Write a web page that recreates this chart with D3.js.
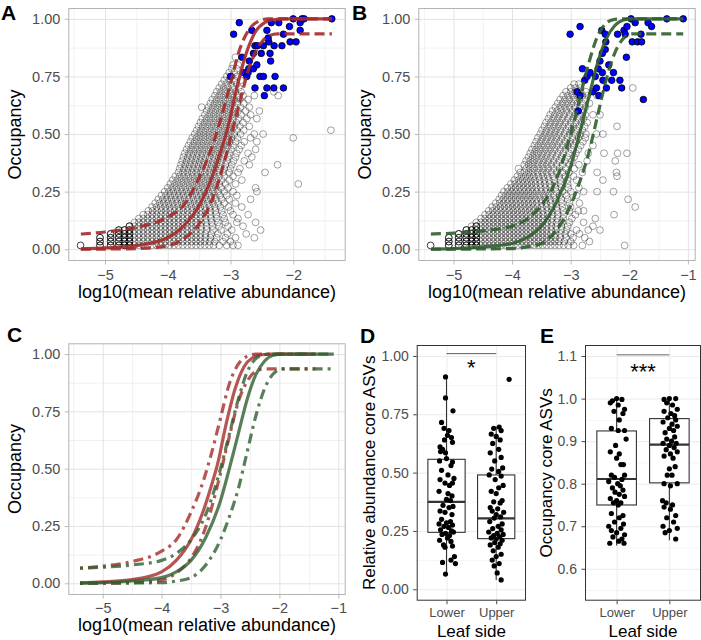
<!DOCTYPE html>
<html>
<head>
<meta charset="utf-8">
<script src="https://cdn.jsdelivr.net/npm/d3@7"></script>
<style>
  body { margin: 0; background: #fff; }
</style>
</head>
<body>
<svg id="fig" width="701" height="640"></svg>
<script>
// ---- data ----
// occupancy is k/60 (60 leaf samples); x is log10(mean relative abundance), written as hundredths (positive = minus)
const nSamples = 60;

// panel A (lower leaf side): non-core ASVs, one row per occupancy level "k: x x x ..."
const grayA = [
  "1: 508 491 478 469 461 453 446 439 432 425 418 411 404 397 390 383 376 369 362 355 348 341 334 327 318 306 296 288",
  "2: 508 491 478 469 461 453 446 439 432 425 418 411 404 397 390 383 376 369 362 355 348 341 333 325 312 300",
  "3: 508 491 478 469 461 453 446 439 432 425 418 411 404 397 390 383 376 369 362 355 348 340 332 322 308 292 262",
  "4: 491 478 469 461 453 446 439 432 425 418 411 404 397 390 383 376 369 362 355 348 340 331 320 305 275",
  "5: 478 469 461 453 446 439 432 425 418 411 404 397 390 383 376 369 362 355 347 338 328 315 298 252",
  "6: 461 453 446 439 432 425 418 411 404 397 390 383 376 369 362 355 347 338 329 318 304 280",
  "7: 453 446 439 432 425 418 411 404 397 390 383 376 369 362 355 347 339 330 320 308 290 260",
  "8: 446 439 432 425 418 411 404 397 390 383 376 369 362 355 348 340 331 322 310 288",
  "9: 439 432 425 418 411 404 397 390 383 376 369 362 355 348 340 332 323 312 296 272",
  "10: 431 424 417 410 403 396 389 382 375 368 361 354 347 340 332 324 314 300",
  "11: 425 418 411 404 397 390 383 376 369 362 355 348 341 333 325 316 303 282",
  "12: 420 413 406 399 392 385 378 371 364 357 350 343 336 328 320 310 292",
  "13: 415 408 401 394 387 380 373 366 359 352 345 338 331 323 314 302 268",
  "14: 410 403 396 389 382 375 368 361 354 347 340 333 325 317 306 290",
  "15: 405 398 391 384 377 370 363 356 349 342 335 328 320 310 296 258",
  "16: 400 393 386 379 372 365 358 351 344 337 330 323 315 304 260",
  "17: 396 389 382 375 368 361 354 347 340 333 326 318 308 292 192",
  "18: 392 385 378 371 364 357 350 343 336 329 322 314 302 282",
  "19: 388 381 374 367 360 353 346 339 332 325 318 310 296",
  "20: 383 376 369 362 355 348 341 334 327 320 312 302 288 245",
  "21: 381 374 367 360 353 346 339 332 325 318 310 300 285",
  "22: 379 372 365 358 351 344 337 330 323 316 308 298 270 225",
  "23: 377 370 363 356 349 342 335 328 321 314 306 295 278",
  "24: 375 368 361 354 347 340 333 326 319 312 304 292 266",
  "25: 373 366 359 352 345 338 331 324 317 310 302 290 272",
  "26: 370 363 356 349 342 335 328 321 314 307 299 286 260",
  "27: 367 360 353 346 339 332 325 318 311 304 296 283",
  "28: 364 357 350 343 336 329 322 315 308 301 292 278 258",
  "29: 361 354 347 340 333 326 319 312 305 298 289 268 200",
  "30: 357 350 343 336 329 322 315 308 301 294 284 262 248",
  "31: 354 347 340 333 326 319 312 305 298 290 279 140",
  "32: 351 344 337 330 323 316 309 302 294 285 270",
  "33: 348 341 334 327 320 313 306 299 291 280",
  "34: 345 338 331 324 317 310 303 296 287 274 258",
  "35: 341 334 327 320 313 306 299 292 283 268",
  "36: 338 331 324 317 310 303 296 288 276 254",
  "37: 346 335 328 321 314 307 300 293 284 270",
  "38: 332 325 318 311 304 297 289 279",
  "39: 329 322 315 308 301 294 285 272",
  "40: 325 318 311 304 297 289 280 262 224",
  "41: 322 315 308 300 292 283 231",
  "42: 318 311 304 296 287",
  "43: 314 307 299 290",
  "44: 310 302 294 284",
  "45: 306 298 289",
  "46: 302 294",
  "47: 298 290",
  "48: 296 288",
  "50: 292"
];
// stacked (many identical) low-abundance ASVs, "x: k k k"
const stackA = ["539: 1", "508: 1 2 3", "491: 1 2 3 4", "478: 1 2 3 4 5", "469: 1 2 3 4 5", "461: 1 2 3 4 5 6"];
// core ASVs of panel A, [x, k]
const coreA = [
  [-2.86,59],[-2.95,56],[-3.0,45],[-2.82,50],[-2.79,46],[-2.74,45],[-2.71,47],[-2.70,49],[-2.66,57],
  [-2.635,47],[-2.61,53],[-2.58,48],[-2.57,53],[-2.61,42],[-2.53,45],[-2.475,45],[-2.46,40],[-2.42,57],
  [-2.42,42],[-2.39,54],[-2.37,51],[-2.36,49],[-2.35,59],[-2.31,42],[-2.305,53],[-2.29,45],[-2.23,59],
  [-2.18,53],[-2.156,56],[-2.156,42],[-2.06,58],[-2.05,54],[-2.0,60],[-1.955,54],[-1.89,59],[-1.89,57],
  [-1.86,60],[-1.826,60],[-1.385,60],[-2.51,51],[-2.475,53],[-2.40,55],[-2.635,51],[-2.72,46]
];

// panel B (upper leaf side)
const grayB = [
  "1: 508 491 478 469 461 453 446 439 432 425 418 411 404 397 390 383 376 369 362 355 348 341 334 327 320 312 304 295 280 208",
  "2: 508 491 478 469 461 453 446 439 432 425 418 411 404 397 390 383 376 369 362 355 348 341 334 327 320 311 300 268",
  "3: 508 491 478 469 461 453 446 439 432 425 418 411 404 397 390 383 376 369 362 355 348 341 334 326 318 308 296 276",
  "4: 491 478 469 461 453 446 439 432 425 418 411 404 397 390 383 376 369 362 355 348 341 334 326 318 309 300 285",
  "5: 478 469 461 453 446 439 432 425 418 411 404 397 390 383 376 369 362 355 348 341 333 325 316 307 290 270 250",
  "6: 469 461 453 446 439 432 425 418 411 404 397 390 383 376 369 362 355 348 341 333 325 316 305 262",
  "7: 461 453 446 439 432 425 418 411 404 397 390 383 376 369 362 355 348 340 332 324 315 302 278",
  "8: 453 446 439 432 425 418 411 404 397 390 383 376 369 362 355 348 340 332 323 313 298 258",
  "9: 446 439 432 425 418 411 404 397 390 383 376 369 362 355 347 339 331 322 312 292 226",
  "10: 440 433 426 419 412 405 398 391 384 377 370 363 356 348 340 332 323 313 302 287 278",
  "11: 434 427 420 413 406 399 392 385 378 371 364 357 349 341 333 324 314 300 190",
  "12: 428 421 414 407 400 393 386 379 372 365 358 350 342 334 325 315 302 285",
  "13: 422 415 408 401 394 387 380 373 366 359 351 343 335 326 316 305 202",
  "14: 418 411 404 397 390 383 376 369 362 354 346 338 329 319 307 290",
  "15: 414 407 400 393 386 379 372 365 358 350 342 334 325 314 300 278 255 227",
  "16: 408 401 394 387 380 373 366 359 351 343 335 326 316 304 286",
  "17: 402 395 388 381 374 367 360 352 344 336 327 317 305",
  "18: 396 389 382 375 368 361 353 345 337 328 318 306 290 245",
  "19: 391 384 377 370 363 355 347 339 330 320 309 295 221",
  "20: 386 379 372 365 357 349 341 333 324 314 303 280 255 222",
  "21: 389 376 369 362 354 346 338 329 319 308 294",
  "22: 379 372 365 357 349 341 333 324 314 302 286",
  "23: 376 369 362 354 346 338 329 320 310 298 272 224",
  "24: 372 365 358 350 342 334 325 316 306 294",
  "25: 369 362 355 347 339 331 322 313 303 291 270 243 220 204",
  "26: 366 359 351 343 335 327 318 309 299 287",
  "27: 362 355 347 339 331 323 314 305 295 283 262",
  "28: 359 351 343 335 327 319 310 301 291 279",
  "29: 356 348 340 332 324 315 306 297 287 275",
  "30: 352 344 336 328 320 311 302 293 284 274 256 245",
  "31: 349 341 333 325 317 308 299 290 280",
  "32: 345 337 329 321 313 304 295 286 276 221",
  "33: 342 334 326 318 309 300 291 282 272",
  "34: 338 330 322 314 305 296 287 278",
  "35: 335 327 319 311 302 293 284 275 262 250",
  "36: 331 323 315 307 298 289 280",
  "37: 326 318 310 302 293 284 275",
  "38: 322 314 306 298 289 280 268",
  "39: 318 310 302 294 285 276",
  "40: 313 305 297 289 280 271 255",
  "41: 308 300 292 283 274",
  "42: 300 292 283 194",
  "43: 294 286"
];
const stackB = ["539: 1", "508: 1 2 3", "491: 1 2 3 4", "478: 1 2 3 4 5", "469: 1 2 3 4 5", "461: 1 2 3 4 5 6"];
const coreB = [
  [-3.01,56],[-2.84,58],[-2.89,41],[-2.84,40],[-2.87,36],[-2.80,47],[-2.76,44],[-2.72,45],[-2.67,46],
  [-2.62,41],[-2.56,42],[-2.52,40],[-2.47,57],[-2.41,56],[-2.40,54],[-2.41,52],[-2.46,51],[-2.50,49],
  [-2.53,47],[-2.46,46],[-2.45,44],[-2.39,42],[-2.35,48],[-2.30,44],[-2.27,46],[-2.16,44],[-2.13,42],
  [-2.09,57],[-2.07,56],[-2.04,58],[-1.97,60],[-1.90,59],[-2.05,50],[-1.95,54],[-1.86,54],[-1.80,56],
  [-1.79,54],[-1.68,59],[-1.62,58],[-1.36,60],[-1.08,60],[-1.76,39],[-2.20,56],[-2.58,45]
];

// fitted neutral model curves [x, occupancy]: fit, upper and lower bound
const fitA = [[-5.385,0.002],[-5,0.006],[-4.5,0.016],[-4,0.05],[-3.75,0.10],[-3.5,0.19],[-3.3,0.31],[-3.15,0.43],
  [-3.05,0.52],[-2.9,0.70],[-2.75,0.85],[-2.6,0.945],[-2.45,0.985],[-2.3,0.997],[-2.15,1],[-1.385,1]];
const upperA = [[-5.385,0.066],[-5,0.075],[-4.5,0.095],[-4,0.14],[-3.75,0.19],[-3.5,0.31],[-3.3,0.44],[-3.15,0.57],
  [-3.0,0.72],[-2.85,0.87],[-2.7,0.955],[-2.55,0.99],[-2.4,1],[-1.385,1]];
const lowerA = [[-5.385,0],[-4.5,0.003],[-4,0.015],[-3.75,0.045],[-3.5,0.11],[-3.3,0.21],[-3.15,0.33],[-3.0,0.48],
  [-2.85,0.64],[-2.7,0.79],[-2.55,0.88],[-2.4,0.925],[-2.25,0.935],[-1.385,0.935]];
const fitB = [[-5.385,0.001],[-5,0.003],[-4.5,0.01],[-4,0.025],[-3.75,0.05],[-3.5,0.10],[-3.25,0.20],[-3.0,0.36],
  [-2.85,0.50],[-2.7,0.65],[-2.55,0.80],[-2.4,0.91],[-2.25,0.97],[-2.1,0.995],[-1.95,1],[-1.08,1]];
const upperB = [[-5.385,0.066],[-5,0.07],[-4.5,0.08],[-4,0.10],[-3.75,0.13],[-3.5,0.19],[-3.25,0.30],[-3.0,0.50],
  [-2.85,0.65],[-2.7,0.80],[-2.55,0.92],[-2.4,0.98],[-2.25,0.998],[-2.1,1],[-1.08,1]];
const lowerB = [[-5.385,0],[-4,0.003],[-3.75,0.01],[-3.5,0.025],[-3.25,0.08],[-3.0,0.19],[-2.85,0.29],[-2.7,0.41],
  [-2.55,0.57],[-2.4,0.73],[-2.25,0.85],[-2.1,0.915],[-1.95,0.935],[-1.08,0.935]];

// panels D and E: per leaf side, [jitter offset, value]
const sides = ["Lower", "Upper"];
const relAbundance = [
  [[-0.02,0.91],[-0.02,0.82],[0.13,0.765],[-0.1,0.715],[-0.05,0.69],[0.05,0.68],[0.02,0.66],[0.1,0.65],[-0.04,0.64],
   [0.12,0.63],[-0.13,0.61],[-0.08,0.6],[-0.12,0.59],[-0.02,0.585],[0.0,0.56],[-0.14,0.55],[0.12,0.545],[0.09,0.53],
   [-0.1,0.51],[0.03,0.49],[0.15,0.475],[-0.13,0.47],[-0.03,0.455],[0.12,0.455],[0.06,0.445],[-0.15,0.42],[0.03,0.41],
   [0.11,0.4],[0.0,0.385],[0.08,0.38],[-0.07,0.36],[0.13,0.355],[0.05,0.35],[-0.13,0.335],[-0.03,0.33],[0.11,0.32],
   [-0.1,0.3],[0.08,0.29],[0.0,0.285],[-0.15,0.28],[0.12,0.275],[-0.05,0.27],[0.04,0.265],[-0.12,0.255],[0.1,0.25],
   [0.14,0.245],[-0.02,0.24],[-0.09,0.235],[0.06,0.23],[0.02,0.22],[-0.14,0.21],[0.09,0.205],[-0.06,0.19],[0.12,0.185],
   [-0.03,0.18],[0.16,0.14],[0.09,0.125],[-0.08,0.115],[0.18,0.11],[-0.02,0.065]],
  [[0.26,0.90],[0.06,0.695],[-0.05,0.69],[0.1,0.68],[-0.1,0.665],[0.0,0.655],[0.08,0.64],[-0.07,0.625],[0.05,0.6],
   [-0.12,0.585],[0.1,0.565],[-0.03,0.55],[0.13,0.52],[-0.09,0.515],[0.05,0.505],[-0.14,0.49],[0.1,0.485],[-0.02,0.47],
   [0.14,0.445],[0.05,0.435],[-0.1,0.42],[0.0,0.41],[0.12,0.38],[-0.05,0.375],[0.08,0.37],[-0.12,0.35],[0.03,0.345],
   [-0.08,0.335],[0.15,0.33],[0.0,0.32],[0.09,0.31],[-0.04,0.305],[-0.13,0.29],[0.12,0.28],[0.04,0.27],[-0.07,0.26],
   [0.1,0.255],[-0.15,0.245],[0.02,0.24],[0.14,0.235],[-0.05,0.23],[0.07,0.225],[-0.1,0.22],[0.0,0.215],[0.12,0.21],
   [-0.03,0.2],[0.08,0.195],[-0.12,0.19],[0.04,0.18],[-0.06,0.165],[0.1,0.15],[0.0,0.14],[-0.08,0.125],[0.06,0.11],
   [-0.04,0.1],[0.02,0.07],[0.1,0.04]]
];
const occCore = [
  [[0.0,1.0],[-0.08,0.995],[0.1,0.998],[-0.12,0.99],[0.03,0.985],[0.15,0.975],[-0.05,0.97],[0.12,0.965],[0.05,0.95],
   [-0.1,0.93],[0.15,0.925],[0.03,0.925],[0.18,0.905],[-0.02,0.89],[-0.12,0.875],[0.05,0.87],[0.0,0.86],[0.13,0.845],
   [0.08,0.845],[-0.1,0.82],[0.15,0.82],[-0.04,0.815],[0.1,0.81],[-0.15,0.805],[0.02,0.8],[0.07,0.795],[-0.08,0.79],
   [0.12,0.785],[-0.03,0.78],[0.05,0.775],[0.15,0.77],[-0.12,0.765],[0.0,0.76],[0.08,0.755],[-0.06,0.755],[0.03,0.75],
   [-0.1,0.73],[0.12,0.725],[0.05,0.72],[-0.04,0.71],[0.13,0.705],[-0.15,0.7],[0.08,0.695],[-0.1,0.69],[0.0,0.685],
   [0.15,0.68],[-0.07,0.675],[0.1,0.67],[0.04,0.665],[-0.13,0.66],[0.14,0.66]],
  [[0.0,1.0],[-0.1,0.998],[0.12,1.0],[-0.05,0.99],[0.06,0.985],[0.15,0.975],[-0.1,0.97],[0.03,0.965],[0.1,0.96],
   [-0.03,0.955],[0.12,0.95],[-0.12,0.945],[0.05,0.94],[0.15,0.935],[0.0,0.93],[0.08,0.925],[-0.08,0.92],[0.1,0.91],
   [-0.05,0.905],[0.04,0.9],[0.13,0.895],[-0.12,0.895],[0.0,0.89],[0.09,0.885],[-0.06,0.88],[0.15,0.875],[0.02,0.87],
   [-0.1,0.865],[0.07,0.86],[0.11,0.84],[0.0,0.835],[-0.04,0.82],[0.05,0.82],[0.15,0.8],[-0.1,0.8],[0.02,0.795],
   [-0.13,0.76],[-0.06,0.755],[0.06,0.75],[-0.1,0.745],[0.02,0.74],[0.12,0.725],[-0.05,0.72],[0.08,0.71],[-0.12,0.7],
   [0.15,0.695],[0.0,0.69],[-0.08,0.685],[0.12,0.67]]
];
// box statistics per side: [lower whisker, q1, median, q3, upper whisker]
const relStats = [[0.065, 0.244, 0.375, 0.557, 0.91], [0.04, 0.217, 0.304, 0.49, 0.697]];
const occStats = [[0.655, 0.75, 0.811, 0.924, 1.0], [0.667, 0.802, 0.892, 0.953, 1.0]];

// ---- drawing ----
const svg = d3.select('#fig');
const font = '"Liberation Sans", Arial, Helvetica, sans-serif';
const red = '#a52a2a', green = '#2f5f2f';

function parseRows(rows) {
  const pts = [];
  rows.forEach(r => {
    const [k, xs] = r.split(':');
    xs.trim().split(/\s+/).forEach(v => pts.push([-v / 100, +k / nSamples]));
  });
  return pts;
}
function parseStacks(rows) {
  const pts = [];
  rows.forEach(r => {
    const [x, ks] = r.split(':');
    ks.trim().split(/\s+/).forEach(k => pts.push([-x / 100, +k / nSamples]));
  });
  return pts;
}

function styleAxis(g, c) {
  g.attr('font-family', font);
  g.select('.domain').remove();
  g.selectAll('.tick line').attr('stroke', c.tick).attr('stroke-width', 0.9);
  g.selectAll('.tick text').attr('fill', '#4d4d4d').attr('font-size', c.fs);
}

function drawBack(c) {
  const [x0, x1] = c.sx.range(), [y1, y0] = c.sy.range();
  const g = svg.append('g');
  g.append('rect').attr('x', x0).attr('y', y0).attr('width', x1 - x0).attr('height', y1 - y0).attr('fill', '#fff');
  const grid = (vals, vert, w) => {
    if (!vals.length) return;
    const ax = vert ? d3.axisBottom(c.sx) : d3.axisLeft(c.sy);
    const gg = g.append('g')
      .attr('transform', vert ? `translate(0,${y1})` : `translate(${x0},0)`)
      .call(ax.tickValues(vals).tickSize(vert ? -(y1 - y0) : -(x1 - x0)).tickFormat(''));
    gg.select('.domain').remove();
    gg.selectAll('line').attr('stroke', c.grid).attr('stroke-width', w);
  };
  grid(c.xMinor, true, 0.5);
  grid(c.yMinor, false, 0.5);
  grid(c.xTicks, true, 1);
  grid(c.yTicks, false, 1);
}

function drawFront(c) {
  const [x0, x1] = c.sx.range(), [y1, y0] = c.sy.range();
  svg.append('rect').attr('x', x0 + 0.5).attr('y', y0 + 0.5).attr('width', x1 - x0 - 1).attr('height', y1 - y0 - 1)
    .attr('fill', 'none').attr('stroke', c.border).attr('stroke-width', 1);
  svg.append('g').attr('transform', `translate(0,${y1})`)
    .call(d3.axisBottom(c.sx).tickValues(c.xTicks).tickSize(3.5).tickPadding(c.xPad).tickFormat(c.xFmt))
    .call(g => styleAxis(g, c));
  svg.append('g').attr('transform', `translate(${x0},0)`)
    .call(d3.axisLeft(c.sy).tickValues(c.yTicks).tickSize(3.5).tickPadding(4.5).tickFormat(c.yFmt))
    .call(g => styleAxis(g, { ...c, fs: c.yfs || c.fs }));
}

function label(txt, x, y, size, opt = {}) {
  const t = svg.append('text').attr('x', x).attr('y', y).attr('font-family', font)
    .attr('font-size', size).attr('fill', '#000').text(txt);
  if (opt.anchor) t.attr('text-anchor', opt.anchor);
  if (opt.bold) t.attr('font-weight', 'bold');
  if (opt.rotate) t.attr('transform', `rotate(-90,${x},${y})`);
  return t;
}

const fmtInt = d3.format('d'), fmt2 = d3.format('.2f'), fmt1 = d3.format('.1f');
const lineGen = (sx, sy) => d3.line().x(d => sx(d[0])).y(d => sy(d[1])).curve(d3.curveMonotoneX);

function curvePanel(c) {
  drawBack(c);
  const g = svg.append('g');
  if (c.gray) {
    g.selectAll('circle.nc').data(parseRows(c.gray)).join('circle')
      .attr('cx', d => c.sx(d[0])).attr('cy', d => c.sy(d[1])).attr('r', 3.4)
      .attr('fill', 'none').attr('stroke', '#000').attr('stroke-opacity', 0.46).attr('stroke-width', 0.8);
    g.selectAll('circle.st').data(parseStacks(c.stack)).join('circle')
      .attr('cx', d => c.sx(d[0])).attr('cy', d => c.sy(d[1])).attr('r', 3.4)
      .attr('fill', 'none').attr('stroke', '#000').attr('stroke-opacity', 0.85).attr('stroke-width', 0.9);
    g.selectAll('circle.core').data(c.core).join('circle')
      .attr('cx', d => c.sx(d[0])).attr('cy', d => c.sy(d[1] / nSamples)).attr('r', 3.3)
      .attr('fill', '#0000ff').attr('stroke', '#000').attr('stroke-width', 0.8);
  }
  c.curves.forEach(cv => {
    g.append('path').attr('d', lineGen(c.sx, c.sy)(cv.data))
      .attr('fill', 'none').attr('stroke', cv.color).attr('stroke-opacity', cv.alpha)
      .attr('stroke-width', 3.2).attr('stroke-dasharray', cv.dash || null);
  });
  drawFront(c);
}

const occTicks = [0, 0.25, 0.5, 0.75, 1], occMinor = [0.125, 0.375, 0.625, 0.875];
const lightTheme = { grid: '#e3e3e3', border: '#b3b3b3', tick: '#b3b3b3', fs: 14.5, xPad: 5.5, xFmt: fmtInt, yFmt: fmt2 };
const yOcc = (top, bottom) => d3.scaleLinear().domain([-0.051, 1.047]).range([bottom, top]);

// A
curvePanel({ ...lightTheme,
  sx: d3.scaleLinear().domain([-5.585, -1.164]).range([68.3, 345.7]), sy: yOcc(8, 261),
  xTicks: [-5, -4, -3, -2], xMinor: [-5.5, -4.5, -3.5, -2.5, -1.5], yTicks: occTicks, yMinor: occMinor,
  gray: grayA, stack: stackA, core: coreA,
  curves: [{ data: fitA, color: red, alpha: 0.9 }, { data: upperA, color: red, alpha: 0.9, dash: '10,5' },
           { data: lowerA, color: red, alpha: 0.9, dash: '10,5' }] });
// B
curvePanel({ ...lightTheme,
  sx: d3.scaleLinear().domain([-5.6, -0.867]).range([418.3, 695.7]), sy: yOcc(8, 261),
  xTicks: [-5, -4, -3, -2, -1], xMinor: [-5.5, -4.5, -3.5, -2.5, -1.5], yTicks: occTicks, yMinor: occMinor,
  gray: grayB, stack: stackB, core: coreB,
  curves: [{ data: fitB, color: green, alpha: 0.9 }, { data: upperB, color: green, alpha: 0.9, dash: '10,5' },
           { data: lowerB, color: green, alpha: 0.9, dash: '10,5' }] });
// C
curvePanel({ ...lightTheme, xPad: 4.5,
  sx: d3.scaleLinear().domain([-5.584, -0.874]).range([68.3, 345.7]), sy: yOcc(343.3, 595),
  xTicks: [-5, -4, -3, -2, -1], xMinor: [-5.5, -4.5, -3.5, -2.5, -1.5], yTicks: occTicks, yMinor: occMinor,
  curves: [{ data: fitA, color: red, alpha: 0.8 }, { data: upperA, color: red, alpha: 0.8, dash: '3,5,10,5' },
           { data: lowerA, color: red, alpha: 0.8, dash: '3,5,10,5' },
           { data: fitB, color: green, alpha: 0.8 }, { data: upperB, color: green, alpha: 0.8, dash: '3,5,10,5' },
           { data: lowerB, color: green, alpha: 0.8, dash: '3,5,10,5' }] });

// D and E boxplots
function boxPanel(c) {
  drawBack(c);
  const step = c.sx.step();
  const g = svg.append('g');
  const bw = 0.75 * step;
  c.stats.forEach((s, i) => {
    const cx = c.sx(sides[i]);
    g.append('line').attr('x1', cx).attr('x2', cx).attr('y1', c.sy(s[0])).attr('y2', c.sy(s[1]))
      .attr('stroke', '#333').attr('stroke-width', 1.1);
    g.append('line').attr('x1', cx).attr('x2', cx).attr('y1', c.sy(s[3])).attr('y2', c.sy(s[4]))
      .attr('stroke', '#333').attr('stroke-width', 1.1);
    g.append('rect').attr('x', cx - bw / 2).attr('width', bw).attr('y', c.sy(s[3])).attr('height', c.sy(s[1]) - c.sy(s[3]))
      .attr('fill', '#fff').attr('stroke', '#333').attr('stroke-width', 1.1);
    g.append('line').attr('x1', cx - bw / 2).attr('x2', cx + bw / 2).attr('y1', c.sy(s[2])).attr('y2', c.sy(s[2]))
      .attr('stroke', '#333').attr('stroke-width', 2.2);
  });
  c.points.forEach((pts, i) => {
    g.selectAll(null).data(pts).join('circle')
      .attr('cx', d => c.sx(sides[i]) + d[0] * step).attr('cy', d => c.sy(d[1])).attr('r', 2.6).attr('fill', '#000');
  });
  const [xa, xb] = [c.sx(sides[0]), c.sx(sides[1])];
  g.append('line').attr('x1', xa).attr('x2', xb).attr('y1', c.sy(c.barY)).attr('y2', c.sy(c.barY))
    .attr('stroke', c.barColor).attr('stroke-width', c.barW);
  g.append('text').attr('x', (xa + xb) / 2).attr('y', c.starY).attr('text-anchor', 'middle')
    .attr('font-family', font).attr('font-size', 22).attr('fill', '#000').text(c.stars);
  drawFront(c);
}
const bwTheme = { grid: '#ebebeb', border: '#333333', tick: '#333333', fs: 13, yfs: 14, xPad: 3.5, xFmt: d => d };

boxPanel({ ...bwTheme,
  sx: d3.scalePoint().domain(sides).range([416.7, 526]).padding(0.6),
  sy: d3.scaleLinear().domain([-0.049, 1.047]).range([600.7, 345]),
  xTicks: sides, xMinor: [], yTicks: occTicks, yMinor: occMinor, yFmt: fmt2,
  stats: relStats, points: relAbundance, barY: 1.01, barColor: '#333', barW: 0.8, stars: '*', starY: 375 });
boxPanel({ ...bwTheme,
  sx: d3.scalePoint().domain(sides).range([585, 701]).padding(0.6),
  sy: d3.scaleLinear().domain([0.525, 1.126]).range([600.7, 345]),
  xTicks: sides, xMinor: [], yTicks: [0.6, 0.7, 0.8, 0.9, 1.0, 1.1], yMinor: [0.55, 0.65, 0.75, 0.85, 0.95, 1.05],
  yFmt: fmt1, stats: occStats, points: occCore, barY: 1.103, barColor: '#999', barW: 1.5, stars: '***', starY: 379 });

// titles and tags
label('log10(mean relative abundance)', 207, 298, 18, { anchor: 'middle' });
label('log10(mean relative abundance)', 557, 298, 18, { anchor: 'middle' });
label('log10(mean relative abundance)', 207, 631, 18, { anchor: 'middle' });
label('Occupancy', 21, 134.5, 18, { anchor: 'middle', rotate: true });
label('Occupancy', 371, 134.5, 18, { anchor: 'middle', rotate: true });
label('Occupancy', 21, 469, 18, { anchor: 'middle', rotate: true });
label('Leaf side', 471.4, 637, 17, { anchor: 'middle' });
label('Leaf side', 643, 637, 17, { anchor: 'middle' });
label('Relative abundance core ASVs', 375.5, 472.8, 17, { anchor: 'middle', rotate: true });
label('Occupancy core ASVs', 552, 472.8, 17, { anchor: 'middle', rotate: true });
label('A', 1, 20, 21, { bold: true });
label('B', 352, 20, 21, { bold: true });
label('C', 7, 342, 21, { bold: true });
label('D', 360, 343, 21, { bold: true });
label('E', 540, 343, 21, { bold: true });
</script>
</body>
</html>
